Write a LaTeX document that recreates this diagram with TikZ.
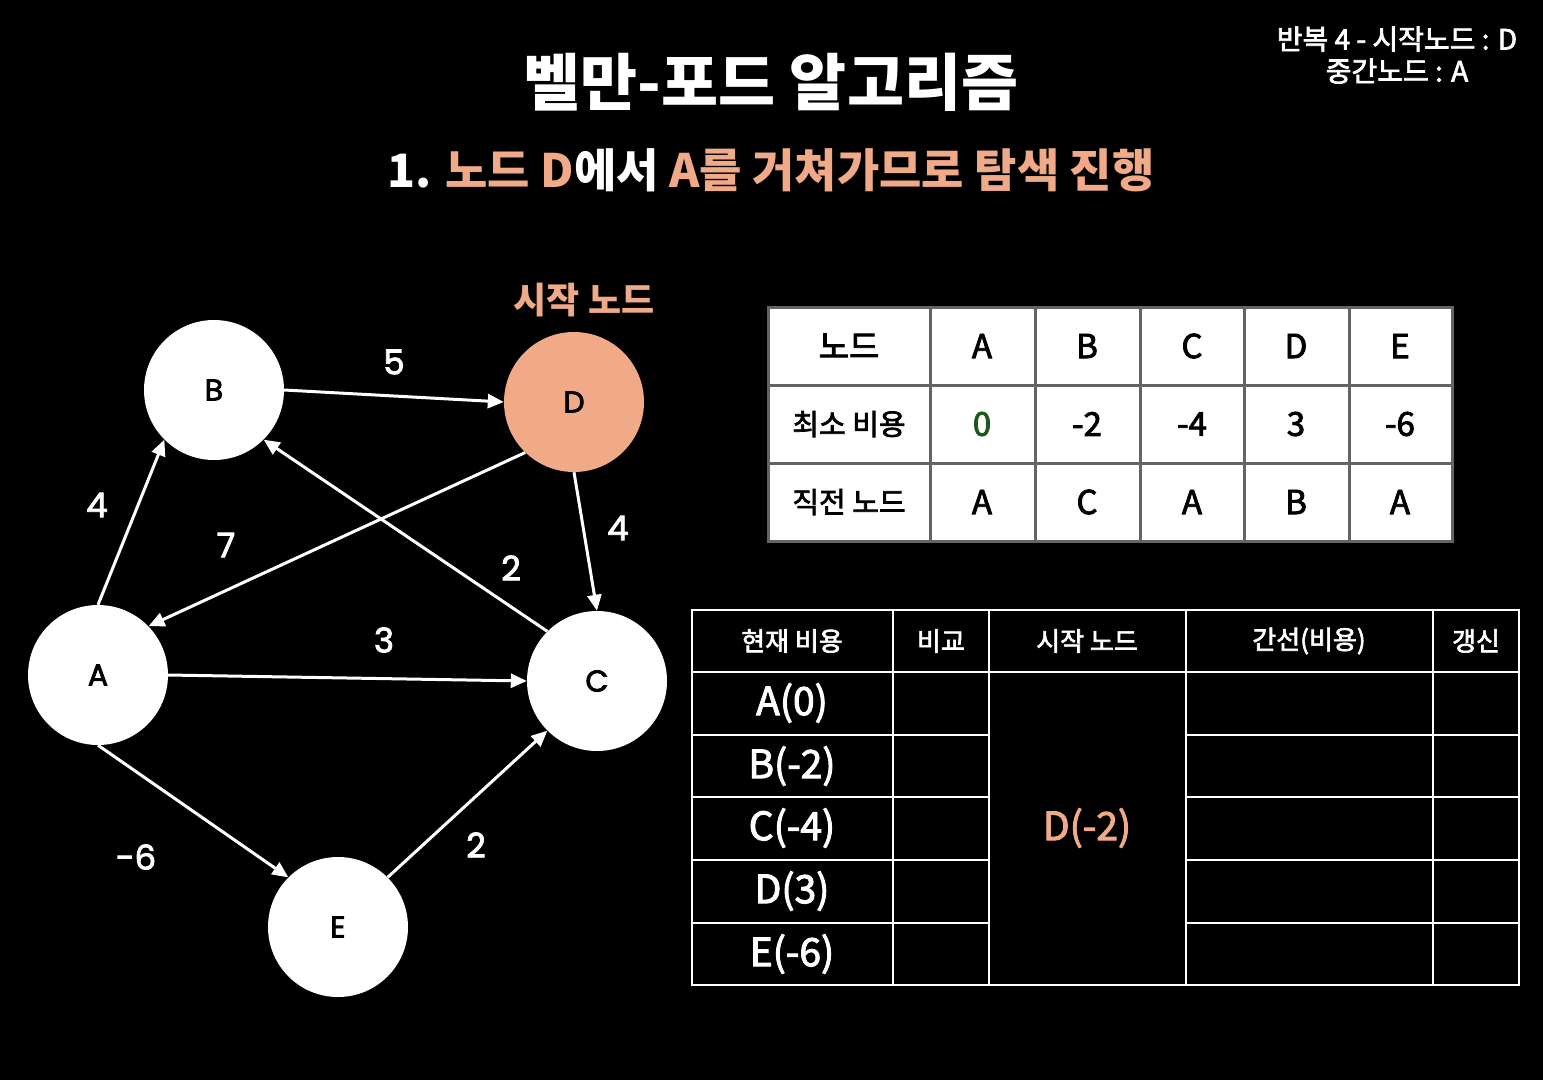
\documentclass[tikz,border=0pt]{standalone}
\usepackage{fontspec}
\setmainfont{Noto Sans CJK KR}
\newfontfamily\krm[FakeBold=2.5]{Noto Sans CJK KR}
\newfontfamily\popm[FakeBold=2.5]{Poppins}
\usetikzlibrary{arrows.meta}
\definecolor{salmon}{RGB}{240,170,135}
\definecolor{dgreen}{RGB}{28,88,30}
\definecolor{tgrid}{RGB}{100,100,100}
\newcommand{\fs}[1]{\fontsize{#1}{#1}\selectfont}
\begin{document}
\begin{tikzpicture}[x=1pt,y=-1pt,
  vtx/.style={circle,fill=white,minimum size=140pt,inner sep=0pt,text=black,font=\popm\fs{30}},
  edge/.style={white,line width=3pt,-{Triangle[length=16pt,width=14pt]}},
  elab/.style={text=white,font=\popm\fs{34}},
  tone/.style={text=black,font=\krm\fs{33}},
  tonek/.style={text=black,font=\krm\fs{29}},
  ttwoh/.style={text=white,font=\krm\fs{26}},
  ttwo/.style={text=white,font=\krm\fs{39}},
  tline/.style={tgrid,line width=3pt},
  wline/.style={white,line width=2.5pt}]
\fill[black] (0,0) rectangle (1543,1080);
\useasboundingbox (0,0) rectangle (1543,1080);

% titles
\node[text=white,font=\bfseries\fs{62}] (title) at (771,82) {벨만-포드 알고리즘};
\node[text=white,font=\bfseries\fs{46}] (sub) at (771,170) {1. \textcolor{salmon}{노드 D}에서 \textcolor{salmon}{A를 거쳐가므로 탐색 진행}};
\node[text=white,font=\krm\fs{28},align=center,inner sep=0pt] (iter) at (1397,55) {반복 4 - 시작노드 : D\\[4pt]중간노드 : A};

% graph
\node[text=salmon,font=\bfseries\fs{36}] (startlbl) at (584,300) {시작 노드};
\node[vtx] (B) at (214,390) {B};
\node[vtx,fill=salmon] (D) at (574,402) {D};
\node[vtx] (A) at (98,675) {A};
\node[vtx] (C) at (597,681) {C};
\node[vtx] (E) at (338,927) {E};

\draw[edge] (A.90) -- (B.225);
\draw[edge] (B.0) -- (D.180);
\draw[edge] (D.226) -- (A.44);
\draw[edge] (C.135) -- (B.315);
\draw[edge] (D.270) -- (C.90);
\draw[edge] (A.0) -- (C.180);
\draw[edge] (A.270) -- (E.135);
\draw[edge] (E.45) -- (C.225);

\node[elab] (l5) at (394,362) {5};
\node[elab] (l4a) at (97,505) {4};
\node[elab] (l7) at (226,545) {7};
\node[elab] (l2a) at (511,568) {2};
\node[elab] (l4b) at (618,528) {4};
\node[elab] (l3) at (384,640) {3};
\node[elab] (l6) at (136,857) {-6};
\node[elab] (l2b) at (476,845) {2};

% table 1
\fill[white] (768,307) rectangle (1452,541);
\foreach \x in {768,930,1035,1140,1244,1349,1452}
  \draw[tline] (\x,307) -- (\x,541);
\foreach \y in {307,385,463,541}
  \draw[tline] (766.5,\y) -- (1453.5,\y);
\node[tonek,font=\krm\fs{33}] (h0) at (849,346) {노드};
\node[tone] (hA) at (982,346) {A};
\node[tone] (hB) at (1087,346) {B};
\node[tone] (hC) at (1192,346) {C};
\node[tone] (hD) at (1296,346) {D};
\node[tone] (hE) at (1400,346) {E};
\node[tonek] (c0) at (849,424) {최소 비용};
\node[tone,text=dgreen] (cA) at (982,424) {0};
\node[tone] (cB) at (1087,424) {-2};
\node[tone] (cC) at (1192,424) {-4};
\node[tone] (cD) at (1296,424) {3};
\node[tone] (cE) at (1400,424) {-6};
\node[tonek] (p0) at (849,502) {직전 노드};
\node[tone] (pA) at (982,502) {A};
\node[tone] (pB) at (1087,502) {C};
\node[tone] (pC) at (1192,502) {A};
\node[tone] (pD) at (1296,502) {B};
\node[tone] (pE) at (1400,502) {A};

% table 2
\foreach \x in {692,893,989,1186,1433,1519}
  \draw[wline] (\x,610) -- (\x,985);
\foreach \y in {610,672,985}
  \draw[wline] (690.75,\y) -- (1520.25,\y);
\foreach \y in {735,797,860,923} {
  \draw[wline] (692,\y) -- (989,\y);
  \draw[wline] (1186,\y) -- (1519,\y);
}
\node[ttwoh] (g1) at (792,641) {현재 비용};
\node[ttwoh] (g2) at (941,641) {비교};
\node[ttwoh] (g3) at (1087,641) {시작 노드};
\node[ttwoh] (g4) at (1309,641) {간선(비용)};
\node[ttwoh] (g5) at (1476,641) {갱신};
\node[ttwo] (rA) at (792,703) {A(0)};
\node[ttwo] (rB) at (792,766) {B(-2)};
\node[ttwo] (rC) at (792,828) {C(-4)};
\node[ttwo] (rD) at (792,891) {D(3)};
\node[ttwo] (rE) at (792,954) {E(-6)};
\node[ttwo,text=salmon] (sD) at (1087,828) {D(-2)};
\end{tikzpicture}
\end{document}
